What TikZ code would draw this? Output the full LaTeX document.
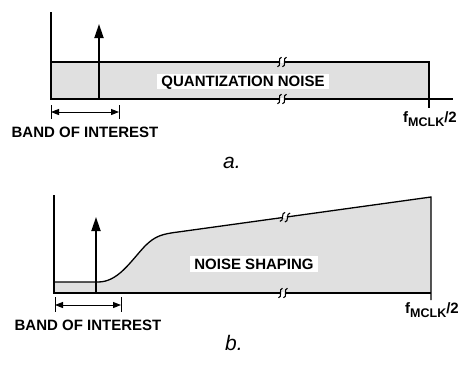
\documentclass[tikz,border=0pt]{standalone}
\usepackage{fontspec}
\setmainfont{Liberation Sans}
\definecolor{noiseGray}{RGB}{224,224,224}
\usetikzlibrary{arrows.meta}

\begin{document}
\begin{tikzpicture}[x=1pt, y=-1pt,
    axis/.style={line width=1.3pt},
    noise/.style={fill=noiseGray},
    tone/.style={line width=1.8pt, -{Triangle[length=14pt,width=9pt]}},
    band/.style={line width=1pt, {Triangle[length=8pt,width=6pt]}-{Triangle[length=8pt,width=6pt]}},
    bandtick/.style={line width=1pt},
    lab/.style={font=\bfseries\fontsize{15}{15}\selectfont, inner sep=0pt},
    tag/.style={lab, fill=white, inner xsep=4.5pt, inner ysep=2.2pt,
                text height=10.7pt, text depth=0pt},
    fq/.style={lab, anchor=base},
    figcap/.style={font=\itshape\fontsize{21}{21}\selectfont, inner sep=0pt, anchor=base},
    squig/.pic={
      \fill[white] (-2.2,-1) rectangle (2.2,1);
      \draw[line width=1.1pt] (-4.5,4.8) .. controls (0,4.5) and (-5,-4.5) .. (-0.5,-4.8);
      \draw[line width=1.1pt] (0.5,4.8) .. controls (5,4.5) and (0,-4.5) .. (4.5,-4.8);
    }
  ]
  \useasboundingbox (0,0) rectangle (460,365);
  \def\fmclk{f\raisebox{-4.5pt}{\fontsize{12.5}{12.5}\selectfont MCLK}/2}

  % a.
  \coordinate (oa) at (51,99);
  \coordinate (bla) at (51,112);
  \coordinate (bra) at (119,112);
  \fill[noise] (51,62) rectangle (429,99);
  \draw[axis] (51,12) -- (oa) -- (453,99);
  \draw[axis] (51,62) -- (429,62) -- (429,108);
  \draw[tone] (99,99) -- (99,24);
  \pic at (282,62) {squig};
  \pic at (282,99) {squig};
  \node[tag] (qn) at (243,81.5) {QUANTIZATION NOISE};
  \draw[bandtick] (51,105) -- (51,119) (119,105) -- (119,119);
  \draw[band] (bla) -- (bra);
  \node[lab] (boia) at (85,132) {BAND OF INTEREST};
  \node[fq] (fa) at (430,122) {\fmclk};
  \node[figcap] (capa) at (232,168) {a.};

  % b.
  \coordinate (ob) at (54,293);
  \coordinate (blb) at (55,305);
  \coordinate (brb) at (121,305);
  \fill[noise] (54,282) -- (98,282) .. controls (118,282) and (130,262) .. (145,246)
    .. controls (155,236) and (162,234) .. (178,232) -- (431,197) -- (431,293) -- (ob) -- cycle;
  \draw[axis] (54,195) -- (ob) -- (431,293);
  \draw[axis] (54,282) -- (98,282) .. controls (118,282) and (130,262) .. (145,246)
    .. controls (155,236) and (162,234) .. (178,232) -- (431,197) -- (431,300);
  \draw[tone] (96,293) -- (96,217);
  \pic[rotate=-8] at (285,217.2) {squig};
  \pic at (283,293) {squig};
  \node[tag] (ns) at (254,264) {NOISE SHAPING};
  \draw[bandtick] (55,297) -- (55,312) (121,297) -- (121,312);
  \draw[band] (blb) -- (brb);
  \node[lab] (boib) at (88,325.5) {BAND OF INTEREST};
  \node[fq] (fb) at (432,313) {\fmclk};
  \node[figcap] (capb) at (234,350) {b.};
\end{tikzpicture}
\end{document}
